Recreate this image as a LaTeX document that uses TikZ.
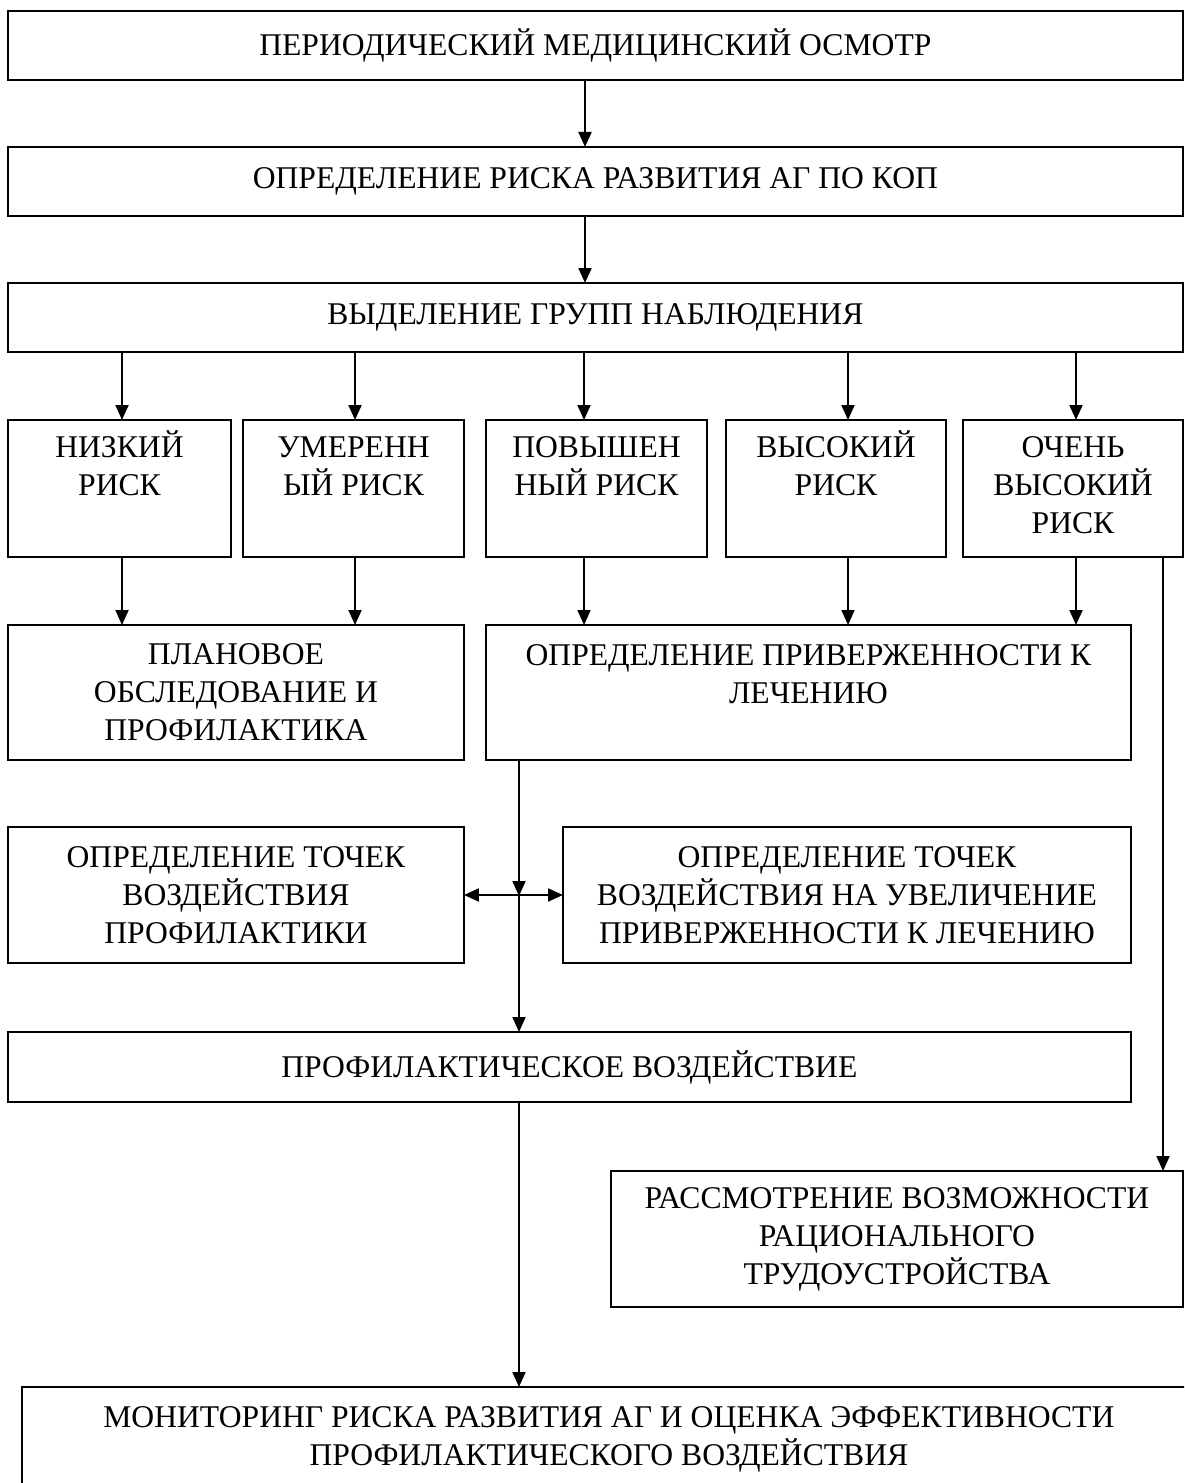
\documentclass[tikz,border=0pt]{standalone}
\usepackage{fontspec}
\setmainfont{Liberation Serif}
\usetikzlibrary{arrows.meta}
\newcommand{\boxtext}[4][c]{\parbox[c][#3][#1]{#2}{\centering #4}}
\newcommand{\firstgap}[1]{\rule{0pt}{#1}}

\begin{document}
\begin{tikzpicture}
  [x=0.02cm,y=-0.02cm,
   block/.style={draw,line width=1.1pt,inner sep=0pt,outer sep=0pt,anchor=north west,
                 font=\fontsize{18}{21.6}\selectfont},
   arr/.style={line width=1.1pt,-{Triangle[length=0.3cm,width=0.26cm]}},
   darr/.style={line width=1.1pt,{Triangle[length=0.3cm,width=0.26cm]}-{Triangle[length=0.3cm,width=0.26cm]}}]
  \clip (0,0) rectangle (1184,1483);
  \node[block] (exam) at (8,11) {\boxtext{23.5cm}{1.38cm}{ПЕРИОДИЧЕСКИЙ МЕДИЦИНСКИЙ ОСМОТР}};
  \node[block] (riskAG) at (8,147) {\boxtext{23.5cm}{1.38cm}{ОПРЕДЕЛЕНИЕ РИСКА РАЗВИТИЯ АГ ПО КОП}};
  \node[block] (groups) at (8,283) {\boxtext{23.5cm}{1.38cm}{ВЫДЕЛЕНИЕ ГРУПП НАБЛЮДЕНИЯ}};
  \node[block] (low) at (8,420) {\boxtext[t]{4.46cm}{2.74cm}{\firstgap{21.3pt}НИЗКИЙ\\РИСК}};
  \node[block] (moderate) at (243,420) {\boxtext[t]{4.42cm}{2.74cm}{\firstgap{21.3pt}УМЕРЕНН\\ЫЙ РИСК}};
  \node[block] (raised) at (486,420) {\boxtext[t]{4.42cm}{2.74cm}{\firstgap{21.3pt}ПОВЫШЕН\\НЫЙ РИСК}};
  \node[block] (high) at (726,420) {\boxtext[t]{4.4cm}{2.74cm}{\firstgap{21.3pt}ВЫСОКИЙ\\РИСК}};
  \node[block] (vhigh) at (963,420) {\boxtext[t]{4.4cm}{2.74cm}{\firstgap{21.3pt}ОЧЕНЬ\\ВЫСОКИЙ\\РИСК}};
  \node[block] (plan) at (8,625) {\boxtext{9.12cm}{2.7cm}{ПЛАНОВОЕ\\ОБСЛЕДОВАНИЕ И\\ПРОФИЛАКТИКА}};
  \node[block] (adher) at (486,625) {\boxtext[t]{12.9cm}{2.7cm}{\firstgap{23pt}ОПРЕДЕЛЕНИЕ ПРИВЕРЖЕННОСТИ К\\ЛЕЧЕНИЮ}};
  \node[block] (pointsL) at (8,827) {\boxtext{9.12cm}{2.72cm}{ОПРЕДЕЛЕНИЕ ТОЧЕК\\ВОЗДЕЙСТВИЯ\\ПРОФИЛАКТИКИ}};
  \node[block] (pointsR) at (563,827) {\boxtext{11.36cm}{2.72cm}{ОПРЕДЕЛЕНИЕ ТОЧЕК\\ВОЗДЕЙСТВИЯ НА УВЕЛИЧЕНИЕ\\ПРИВЕРЖЕННОСТИ К ЛЕЧЕНИЮ}};
  \node[block] (action) at (8,1032) {\boxtext{22.46cm}{1.4cm}{ПРОФИЛАКТИЧЕСКОЕ ВОЗДЕЙСТВИЕ}};
  \node[block] (employ) at (611,1171) {\boxtext{11.44cm}{2.72cm}{РАССМОТРЕНИЕ ВОЗМОЖНОСТИ\\РАЦИОНАЛЬНОГО\\ТРУДОУСТРОЙСТВА}};
  \node[block] (monitor) at (22,1387) {\boxtext[t]{23.48cm}{2.6cm}{\firstgap{23pt}МОНИТОРИНГ РИСКА РАЗВИТИЯ АГ И ОЦЕНКА ЭФФЕКТИВНОСТИ\\ПРОФИЛАКТИЧЕСКОГО ВОЗДЕЙСТВИЯ}};
  \coordinate (jn) at (519,896);
  \draw[arr] (exam.south -| 585,0) -- (riskAG.north -| 585,0);
  \draw[arr] (riskAG.south -| 585,0) -- (groups.north -| 585,0);
  \draw[arr] (groups.south -| 122,0) -- (low.north -| 122,0);
  \draw[arr] (groups.south -| 355,0) -- (moderate.north -| 355,0);
  \draw[arr] (groups.south -| 584,0) -- (raised.north -| 584,0);
  \draw[arr] (groups.south -| 848,0) -- (high.north -| 848,0);
  \draw[arr] (groups.south -| 1076,0) -- (vhigh.north -| 1076,0);
  \draw[arr] (low.south -| 122,0) -- (plan.north -| 122,0);
  \draw[arr] (moderate.south -| 355,0) -- (plan.north -| 355,0);
  \draw[arr] (raised.south -| 584,0) -- (adher.north -| 584,0);
  \draw[arr] (high.south -| 848,0) -- (adher.north -| 848,0);
  \draw[arr] (vhigh.south -| 1076,0) -- (adher.north -| 1076,0);
  \draw[arr] (vhigh.south -| 1163,0) -- (employ.north -| 1163,0);
  \draw[arr] (adher.south -| jn) -- (jn);
  \draw[arr] (jn) -- (action.north -| jn);
  \draw[darr] (pointsL.east) -- (pointsR.west);
  \draw[arr] (action.south -| jn) -- (monitor.north -| jn);
\end{tikzpicture}
\end{document}
